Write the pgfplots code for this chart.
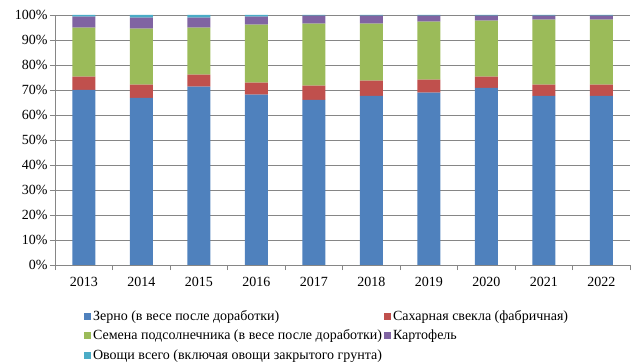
\documentclass[border=0pt]{standalone}
\usepackage{fontspec}
\setmainfont{Liberation Serif}
\usepackage{pgfplots}
\usepackage{pgfplotstable}
\pgfplotsset{compat=1.18}
\definecolor{cBlue}{HTML}{4F81BD}
\definecolor{cRed}{HTML}{C0504D}
\definecolor{cGreen}{HTML}{9BBB59}
\definecolor{cPurple}{HTML}{8064A2}
\definecolor{cCyan}{HTML}{4BACC6}
\definecolor{cGrid}{HTML}{868686}
\pgfplotstableread{
x year zerno svekla semena kart ovoshi
0 2013 70.0 5.3 19.6 4.4 0.7
1 2014 66.8 5.3 22.4 4.4 1.1
2 2015 71.3 4.8 18.8 4.0 1.1
3 2016 68.1 4.8 23.2 3.2 0.7
4 2017 66.0 5.7 24.8 3.2 0.3
5 2018 67.6 6.1 22.8 3.2 0.3
6 2019 68.9 5.2 23.2 2.4 0.3
7 2020 70.8 4.5 22.4 2.0 0.3
8 2021 67.6 4.5 26.0 1.6 0.3
9 2022 67.6 4.5 26.0 1.6 0.3
}\data
\begin{document}
\begin{tikzpicture}
\useasboundingbox (0,0) rectangle (643pt,364pt);
\begin{axis}[
  at={(55pt,99pt)}, anchor=south west,
  scale only axis, width=575pt, height=250pt,
  ybar stacked, bar width=23pt,
  xmin=-0.5, xmax=9.5, ymin=0, ymax=100,
  xtick={0,...,9},
  xticklabels={2013,2014,2015,2016,2017,2018,2019,2020,2021,2022},
  minor xtick={-0.5,0.5,...,9.5},
  ytick={0,10,...,100},
  yticklabel={\pgfmathprintnumber{\tick}\%},
  /pgf/number format/assume math mode=true,
  ymajorgrids, grid style={cGrid, line width=0.9pt},
  axis lines=left, axis line style={cGrid, line width=0.9pt, -},
  tick align=outside,
  major tick length=5pt, minor tick length=5pt,
  x tick style={draw=none},
  minor x tick style={draw=cGrid, line width=0.9pt},
  y tick style={cGrid, line width=0.9pt},
  ticklabel style={font=\fontsize{14}{16}\selectfont, text=black},
  yticklabel style={xshift=1pt},
  xticklabel style={yshift=-4pt},
  legend columns=2,
  legend cell align=left,
  legend style={draw=none, at={(0.045,-0.165)}, anchor=north west,
    font=\fontsize{14}{16}\selectfont, row sep=4pt,
    /tikz/every even column/.append style={column sep=0pt}},
  legend image code/.code={\fill[#1] (0pt,-3.5pt) rectangle (7pt,3.5pt);},
]
\addplot[fill=cBlue, draw=none] table[x=x, y=zerno] {\data};
\addlegendentry{Зерно (в весе после доработки)}
\addplot[fill=cRed, draw=none] table[x=x, y=svekla] {\data};
\addlegendentry{Сахарная свекла (фабричная)}
\addplot[fill=cGreen, draw=none] table[x=x, y=semena] {\data};
\addlegendentry{Семена подсолнечника (в весе после доработки)}
\addplot[fill=cPurple, draw=none] table[x=x, y=kart] {\data};
\addlegendentry{Картофель}
\addplot[fill=cCyan, draw=none] table[x=x, y=ovoshi] {\data};
\addlegendentry{Овощи всего (включая овощи закрытого грунта)}
\end{axis}
\end{tikzpicture}
\end{document}
